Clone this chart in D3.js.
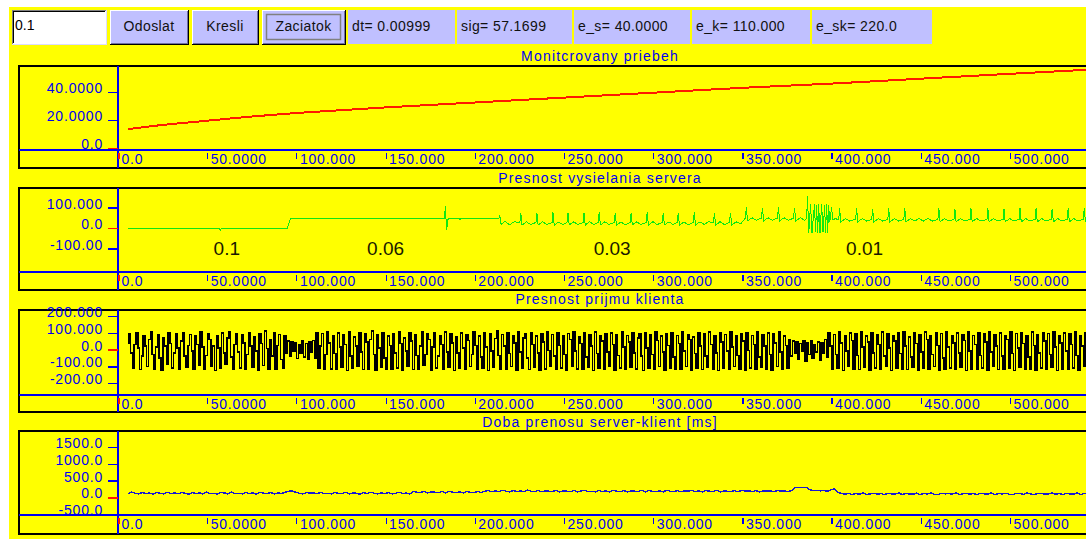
<!DOCTYPE html>
<html>
<head>
<meta charset="utf-8">
<script src="https://cdnjs.cloudflare.com/ajax/libs/d3/7.8.5/d3.min.js"></script>
<style>
  html, body { margin: 0; padding: 0; background: #fff; }
  svg { display: block; font-family: "Liberation Sans", Arial, sans-serif; }
</style>
</head>
<body>
<svg id="chart" width="1086" height="539"></svg>
<script>
// ---- data ----
const inputValue = '0.1';
const buttonLabels = ['Odoslat', 'Kresli', 'Zaciatok'];
const statusLabels = ['dt= 0.00999', 'sig= 57.1699', 'e_s= 40.0000', 'e_k= 110.000', 'e_sk= 220.0'];
const panelTitles = ['Monitcrovany priebeh', 'Presnost vysielania servera', 'Presnost prijmu klienta', 'Doba prenosu server-klient [ms]'];

const xTicks = [0, 50, 100, 150, 200, 250, 300, 350, 400, 450, 500];
const xTickLabels = ['0.0', '50.0000', '100.000', '150.000', '200.000', '250.000', '300.000', '350.000', '400.000', '450.000', '500.000'];

const monitorTicks = [0, 20, 40];
const monitorTickLabels = ['0.0', '20.0000', '40.0000'];
const serverTicks = [-100, 0, 100];
const serverTickLabels = ['-100.00', '0.0', '100.000'];
const clientTicks = [-200, -100, 0, 100, 200];
const clientTickLabels = ['-200.00', '-100.00', '0.0', '100.000', '200.000'];
const delayTicks = [-500, 0, 500, 1000, 1500];
const delayTickLabels = ['-500.0', '0.0', '500.0', '1000.0', '1500.0'];

// panel 1: monitored value
const monitorT = [5.6, 25, 50, 75, 100, 150, 200, 250, 300, 350, 400, 450, 500, 545];
const monitorV = [13.5, 16.5, 19.5, 22.5, 25, 29, 32.5, 36, 39.5, 43, 46, 49.5, 53, 56];

// panel 2: server send accuracy, [t, value]
const serverPts = [
  [5.6, 0], [56.6, 0], [57.3, -10], [58, 0], [95, 0], [96.8, 48], [183, 48], [183.5, 105], [184.2, -10],
  [184.9, 40], [185.6, 48], [191.2, 48], [191.7, 38], [192.3, 48], [213.5, 48],
  [214, 62], [214.7, 18], [217, 32], [219.5, 16], [222, 30],
  [225.3, 28], [225.8, 75], [226.5, 14], [229, 30], [231.4, 16],
  [234.3, 28], [234.8, 74], [235.5, 15], [238, 31], [240.4, 17],
  [243.3, 27], [243.8, 76], [244.5, 14], [247, 29], [249.4, 16],
  [251.7, 28], [252.2, 75], [252.9, 15], [255.4, 30], [257.8, 17],
  [260.7, 27], [261.2, 74], [261.9, 14], [264.4, 31], [266.8, 16],
  [269.2, 28], [269.7, 76], [270.4, 15], [272.9, 30], [275.3, 17],
  [278.2, 27], [278.7, 75], [279.4, 14], [281.9, 29], [284.3, 16],
  [287.1, 28], [287.6, 74], [288.3, 15], [290.8, 30], [293.2, 17],
  [296.1, 27], [296.6, 76], [297.3, 14], [299.8, 31], [302.2, 16],
  [305.1, 28], [305.6, 75], [306.3, 15], [308.8, 30], [311.2, 17],
  [313.5, 27], [314, 74], [314.7, 14], [317.2, 29], [319.6, 16],
  [322.5, 28], [323, 76], [323.7, 15], [326.2, 30], [328.6, 17], [331, 30],
  [333.8, 27], [334.3, 75], [335, 14], [337.5, 31], [339.9, 16],
  [342.8, 28], [343.3, 74], [344, 15], [346.5, 30], [349, 20],
  [351.7, 48], [352.2, 100], [352.9, 35], [355.4, 50], [357.8, 38],
  [360.7, 48], [361.2, 98], [361.9, 35], [364.4, 50], [366.8, 38],
  [369.7, 48], [370.2, 100], [370.9, 35], [373.4, 50], [375.8, 38],
  [378.7, 48], [379.2, 99], [379.9, 35], [382.4, 50], [384.8, 38], [386, 45],
  [386.5, 155], [387.2, -25], [388.2, 115], [389, -25], [390.4, 115], [391, -20], [391.6, 110], [392.2, -25],
  [392.7, 115], [393.5, -25], [394.4, 115], [395.2, -20], [396.1, 110], [396.6, -25], [397.2, 115], [397.8, -25],
  [398.3, 110], [399, 30], [400, 100], [400.6, 40], [402, 45],
  [404, 42], [404.5, 95], [405.2, 30], [407.7, 46], [410.1, 34],
  [413.5, 42], [414, 96], [414.7, 30], [417.2, 46], [419.6, 34],
  [422.5, 42], [423, 94], [423.7, 30], [426.2, 46], [428.6, 34],
  [431.5, 42], [432, 95], [432.7, 30], [435.2, 46], [437.6, 34],
  [440.5, 42], [441, 96], [441.7, 30], [444.2, 46], [446.6, 34], [449, 46], [451.5, 34], [454, 46], [456.5, 34],
  [459.6, 42], [460.1, 95], [460.8, 30], [463.3, 46], [465.7, 34],
  [468.6, 42], [469.1, 94], [469.8, 30], [472.3, 46], [474.7, 34],
  [477.6, 42], [478.1, 96], [478.8, 30], [481.3, 46], [483.7, 34],
  [487.1, 42], [487.6, 95], [488.3, 30], [490.8, 46], [493.2, 34],
  [496.1, 42], [496.6, 94], [497.3, 30], [499.8, 46], [502.2, 34],
  [505.1, 42], [505.6, 96], [506.3, 30], [508.8, 46], [511.2, 34],
  [514.1, 42], [514.6, 95], [515.3, 30], [517.8, 46], [520.2, 34],
  [523.1, 42], [523.6, 94], [524.3, 30], [526.8, 46], [529.2, 34],
  [532.1, 42], [532.6, 96], [533.3, 30], [535.8, 46], [538.2, 34],
  [541.1, 42], [541.6, 95], [542.3, 30], [544.8, 46]
];
const accuracyLabels = ['0.1', '0.06', '0.03', '0.01'];
const accuracyT = [61, 150, 277, 418.5];

// panel 3: client receive accuracy, sampled from t0 every 1
const clientT0 = 5.6;
const clientDt = 1;
const clientV = [
  40, 95, -20, -110, 30, 100, 10, -120, -40, 85, 20, -100, 60, 105, -30, -115, 15, 90, -50, -125, 70, 20, -90, 100, 35, -110, -20, 95, 10, -120,
  50, 100, -40, -105, 25, 90, -10, -120, 80, 30, -95, 105, 15, -115, -35, 95, 60, -100, 20, -125, 85, 10, -110, 100, -20, -90, 70, 105, -45, -120,
  30, 95, -15, -110, 90, 40, -120, -30, 100, 20, -105, 75, -10, -125, 95, 35, -95, 110, 5, -115, 60, -40, 100, -120, 25, 90, -60, -110, 80, -20,
  50, -40, 45, -10, 40, -55, 30, -20, 50, -45, 35, -60, 45, -15, 55, -50, 100, -110, 20, 95, -120, -30, 105, 40, -115, 85, -25, -120, 100, 15,
  -105, 90, 30, -125, 105, -40, -110, 75, 20, -100, 100, -15, -120, 95, 45, -115, 60, 110, -30, -125, 90, 10, -105, 100, -50, -115, 80, 25, -120, 95,
  -20, -110, 105, 35, -125, 70, -10, -100, 100, 50, -120, 90, -35, -115, 20, 105, -95, -30, 95, 60, -125, 15, 100, -110, -40, 85, 30, -120, 105, -15,
  -105, 95, 40, -125, 75, -20, -110, 100, 10, -115, 90, 55, -100, -30, 105, 25, -120, 80, -45, -110, 100, 15, -125, 95, -10, -105, 65, 110, -35, -120,
  90, 20, -115, 100, -25, -100, 85, 40, -125, 105, -15, -110, 70, 95, -50, -120, 100, 30, -105, 80, -20, -125, 95, 45, -115, 105, -5, -100, 90, -40,
  -120, 100, 25, -110, 85, -30, -125, 95, 60, -100, 105, -10, -115, 75, 35, -120, 100, -45, -105, 90, 20, -125, 105, -25, -110, 80, 50, -115, 95, -15,
  -100, 100, 30, -125, 90, -35, -110, 105, 15, -120, 85, 45, -105, 100, -20, -115, 70, 95, -40, -125, 100, 10, -110, 90, -30, -120, 105, 55, -100, 80,
  -15, -125, 95, 25, -110, 100, -45, -115, 85, 35, -120, 105, -10, -100, 90, 60, -125, 75, -25, -110, 100, 20, -120, 95, -40, -105, 105, 30, -115, 85,
  -20, -125, 100, 45, -110, 90, -10, -120, 105, 15, -100, 80, -35, -115, 95, 50, -125, 100, -5, -110, 85, 30, -120, 105, -45, -105, 90, 20, -115, 100,
  -30, -125, 95, 40, -100, 105, -15, -120, 80, 25, -110, 60, -40, 50, -20, 45, -60, 35, -10, 50, -70, 40, -30, 55, -50, 30, -15, 45, -65, 40,
  -25, 60, -45, 100, 20, -120, 90, -30, -110, 105, 40, -125, 85, -10, -100, 100, 55, -115, 95, -35, -120, 105, 15, -105, 80, 45, -125, 100, -20, -110,
  90, 30, -120, 105, -40, -100, 95, 10, -125, 85, 50, -110, 100, -25, -115, 105, 20, -120, 75, -45, -105, 100, 35, -125, 90, -15, -110, 105, 60, -120,
  85, -30, -100, 100, 25, -125, 95, -50, -115, 105, 15, -110, 80, 40, -120, 100, -20, -105, 90, 55, -125, 105, -10, -115, 85, 30, -120, 100, -35, -110,
  95, 45, -125, 105, -15, -100, 90, 20, -120, 100, -40, -115, 80, 60, -110, 105, -25, -125, 95, 10, -105, 100, 35, -120, 85, -45, -115, 105, 25, -125,
  90, -20, -110, 100, 50, -120, 95, -30, -105, 105, 15, -125, 80, 40, -115, 100, -10, -120, 95, 30, -110, 105, -35, -125, 85, 20, -100, 100, -45, -120
];

// panel 4: transfer delay, sampled from t0 every 2
const delayT0 = 5.6;
const delayDt = 2;
const delayV = [
  110, 150, 120, 100, 140, 110, 130, 90, 140, 120, 100, 150, 110, 130, 100, 140, 120, 90, 140, 110,
  130, 100, 150, 110, 120, 90, 140, 130, 100, 150, 110, 120, 100, 140, 110, 130, 90, 150, 120, 110,
  140, 100, 130, 110, 150, 180, 190, 150, 120, 100, 140, 120, 130, 100, 150, 110, 120, 100, 140, 120,
  110, 150, 100, 130, 120, 90, 140, 110, 150, 120, 100, 130, 110, 140, 100, 120, 150, 110, 130, 100,
  170, 150, 140, 180, 130, 160, 150, 140, 170, 130, 180, 150, 140, 160, 130, 170, 150, 130, 180, 140,
  180, 200, 160, 190, 170, 210, 180, 160, 200, 170, 190, 160, 210, 180, 170, 200, 160, 190, 180, 170,
  210, 160, 190, 180, 170, 200, 160, 190, 210, 170, 180, 160, 200, 170, 190, 160, 210, 180, 170, 200,
  160, 190, 180, 170, 210, 160, 200, 180, 170, 190, 160, 210, 180, 170, 200, 160, 190, 180, 210, 170,
  190, 160, 200, 180, 170, 210, 160, 190, 180, 170, 200, 160, 210, 180, 190, 170, 200, 160, 190, 180,
  190, 170, 200, 180, 190, 170, 200, 290, 300, 300, 300, 230, 200, 210, 190, 200, 180, 220, 260, 150,
  110, 90, 120, 80, 110, 90, 130, 80, 100, 120, 90, 110, 80, 120, 100, 90, 130, 80, 110, 100,
  90, 120, 80, 110, 100, 130, 90, 80, 120, 100, 110, 90, 130, 80, 100, 120, 90, 110, 80, 120,
  100, 90, 130, 80, 110, 100, 120, 90, 80, 120, 110, 90, 130, 100, 80, 110, 120, 90, 100, 130,
  90, 110, 80, 120, 100, 90, 130, 80, 110, 100
];

// ---- drawing ----
const BLUE = '#0000f0';
const RED = '#ff1a00';
const svg = d3.select('#chart');
const W = 1086;

svg.append('rect').attr('x', 9).attr('y', 7).attr('width', W - 9).attr('height', 532).attr('fill', '#ffff00');

function hline(g, x1, x2, y, c, w) {
  return g.append('line').attr('x1', x1).attr('x2', x2).attr('y1', y).attr('y2', y)
    .attr('stroke', c).attr('stroke-width', w || 1).attr('shape-rendering', 'crispEdges');
}
function vline(g, x, y1, y2, c, w) {
  return g.append('line').attr('x1', x).attr('x2', x).attr('y1', y1).attr('y2', y2)
    .attr('stroke', c).attr('stroke-width', w || 1).attr('shape-rendering', 'crispEdges');
}

// toolbar
const bar = svg.append('g').attr('font-size', 14);
bar.append('rect').attr('x', 12).attr('y', 10).attr('width', 94).attr('height', 34).attr('fill', '#fff');
hline(bar, 12, 106, 10.5, '#808080'); vline(bar, 12.5, 10, 44, '#808080');
hline(bar, 13, 105, 11.5, '#000'); vline(bar, 13.5, 11, 43, '#000');
hline(bar, 12, 107, 44.5, '#dcdcff'); vline(bar, 106.5, 10, 45, '#dcdcff');
bar.append('text').attr('x', 15).attr('y', 30).text(inputValue).attr('fill', '#000');

const buttonX = [[110, 188], [192, 258], [262, 345]];
buttonLabels.forEach((lab, i) => {
  const [a, b] = buttonX[i];
  bar.append('rect').attr('x', a).attr('y', 10).attr('width', b - a).attr('height', 34).attr('fill', '#c0c0ff');
  hline(bar, a, b, 10.5, '#fff'); vline(bar, a + 0.5, 10, 44, '#fff');
  hline(bar, a, b + 1, 44.5, '#000'); vline(bar, b + 0.5, 10, 45, '#000');
  hline(bar, a + 1, b, 43.5, '#7070a0'); vline(bar, b - 0.5, 11, 44, '#7070a0');
  if (i === 2) {
    bar.append('rect').attr('x', a + 4.5).attr('y', 14.5).attr('width', b - a - 9).attr('height', 25)
      .attr('fill', 'none').attr('stroke', '#808080').attr('stroke-width', 1.5);
  }
  bar.append('text').attr('x', (a + b) / 2).attr('y', 31).attr('text-anchor', 'middle')
    .attr('letter-spacing', 0.4).attr('fill', '#111').text(lab);
});

const statusX = [[348, 455], [457, 572], [574, 690], [692, 810], [812, 932]];
statusLabels.forEach((lab, i) => {
  const [a, b] = statusX[i];
  bar.append('rect').attr('x', a).attr('y', 10).attr('width', b - a).attr('height', 34).attr('fill', '#c0c0ff');
  bar.append('text').attr('x', a + 4).attr('y', 31).attr('letter-spacing', 0.4).attr('fill', '#111').text(lab);
});

// panels
const x = d3.scaleLinear().domain([0, 500]).range([118, 1010]);
const sampled = (arr, t0, dt) => arr.map((v, i) => [t0 + i * dt, v]);

const panels = [
  { top: 66, axis: 150, bottom: 168, titleY: 61, domain: [0, 40], range: [148, 92],
    ticks: monitorTicks, labels: monitorTickLabels,
    series: monitorT.map((t, i) => [t, monitorV[i]]), color: RED, width: 2, curve: d3.curveLinear },
  { top: 188, axis: 272, bottom: 290, titleY: 183, domain: [-100, 100], range: [248.5, 207.5],
    ticks: serverTicks, labels: serverTickLabels, series: serverPts, color: '#10e810', width: 1,
    curve: d3.curveLinear },
  { top: 310, axis: 395, bottom: 412, titleY: 304, domain: [-200, 200], range: [383, 316],
    ticks: clientTicks, labels: clientTickLabels, series: sampled(clientV, clientT0, clientDt),
    color: '#000', width: 1.5, curve: d3.curveStep },
  { top: 431, axis: 515, bottom: 534, titleY: 427, domain: [-500, 1500], range: [514, 447],
    ticks: delayTicks, labels: delayTickLabels, series: sampled(delayV, delayT0, delayDt),
    color: '#1a1ad0', width: 1.4, curve: d3.curveLinear }
];

panels.forEach((p, i) => {
  const g = svg.append('g');
  const y = d3.scaleLinear().domain(p.domain).range(p.range);

  g.append('text').attr('x', 600).attr('y', p.titleY).attr('text-anchor', 'middle')
    .attr('font-size', 14).attr('letter-spacing', 1.2).attr('fill', BLUE).text(panelTitles[i]);

  g.append('clipPath').attr('id', 'clip' + i).append('rect')
    .attr('x', 119).attr('y', p.top + 1).attr('width', W - 119).attr('height', p.axis - p.top - 1);

  g.append('path').datum(p.series)
    .attr('clip-path', `url(#clip${i})`)
    .attr('fill', 'none').attr('stroke', p.color).attr('stroke-width', p.width)
    .attr('shape-rendering', 'crispEdges')
    .attr('d', d3.line().curve(p.curve).x(d => x(d[0])).y(d => y(d[1])));

  if (i === 1) {
    g.selectAll('text.acc').data(accuracyLabels).join('text').attr('class', 'acc')
      .attr('x', (d, k) => x(accuracyT[k])).attr('y', 255).attr('text-anchor', 'middle')
      .attr('font-size', 19).attr('fill', '#1a1a00').text(d => d);
  }

  // frame and axis lines
  g.append('rect').attr('x', 19).attr('y', p.top).attr('width', W + 20).attr('height', p.bottom - p.top)
    .attr('fill', 'none').attr('stroke', '#000').attr('stroke-width', 2).attr('shape-rendering', 'crispEdges');
  hline(g, 19, W, p.axis, BLUE, 2);
  vline(g, 118, p.top, p.bottom, BLUE, 2);

  // y axis
  const yg = g.append('g').attr('transform', 'translate(118,0)')
    .call(d3.axisLeft(y).tickValues(p.ticks).tickFormat((d, k) => p.labels[k]).tickSize(10).tickPadding(5));
  yg.attr('font-family', null).attr('font-size', 14);
  yg.select('.domain').remove();
  yg.selectAll('.tick line').attr('stroke', d => d === 0 ? RED : BLUE).attr('stroke-width', 1.5)
    .attr('shape-rendering', 'crispEdges');
  yg.selectAll('.tick text').attr('dy', 0).attr('y', 0.5).attr('fill', BLUE).attr('letter-spacing', 0.8);

  // x axis
  const xg = g.append('g').attr('transform', `translate(0,${p.axis})`)
    .call(d3.axisBottom(x).tickValues(xTicks).tickFormat((d, k) => xTickLabels[k]).tickSize(0));
  xg.attr('font-family', null).attr('font-size', 14);
  xg.select('.domain').remove();
  xg.selectAll('.tick line').attr('y1', 3).attr('y2', 9)
    .attr('stroke', d => d === 0 ? RED : BLUE).attr('stroke-width', d => d === 0 ? 2 : 1.2)
    .attr('shape-rendering', 'crispEdges');
  xg.selectAll('.tick text').attr('text-anchor', 'start').attr('x', 3).attr('y', 14).attr('dy', 0)
    .attr('fill', BLUE).attr('letter-spacing', 0.8);
});
</script>
</body>
</html>
